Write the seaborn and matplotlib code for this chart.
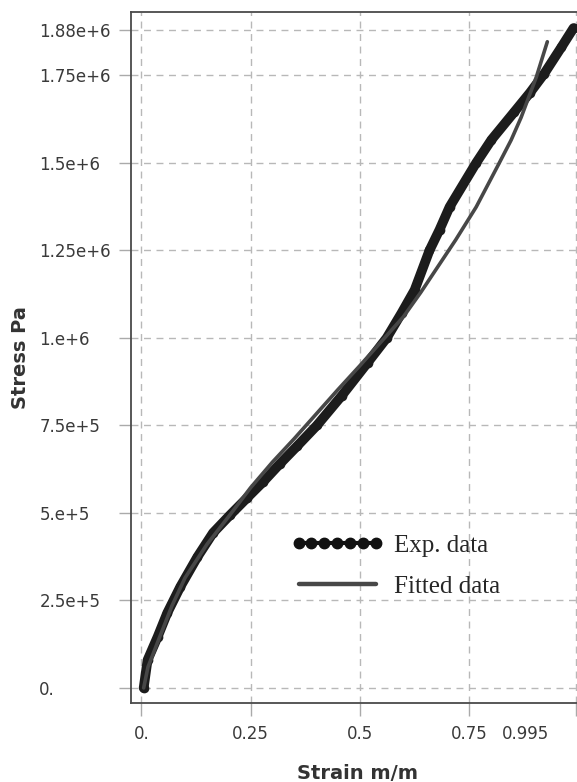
import matplotlib
matplotlib.use("Agg")
import matplotlib.pyplot as plt
from matplotlib.lines import Line2D
from matplotlib.transforms import ScaledTranslation
import seaborn as sns
import pandas as pd

# experimental stress-strain curve (strain m/m, stress in MPa -> Pa)
exp_strain = [0.005, 0.014, 0.037, 0.059, 0.089, 0.128, 0.164, 0.203, 0.242, 0.279,
              0.317, 0.356, 0.402, 0.459, 0.518, 0.562, 0.596, 0.626, 0.660, 0.683,
              0.706, 0.767, 0.802, 0.854, 0.890, 0.923, 0.962, 0.990]
exp_stress = [0.0, 0.08, 0.146, 0.214, 0.289, 0.374, 0.443, 0.494, 0.543, 0.589,
              0.640, 0.690, 0.750, 0.835, 0.929, 1.000, 1.071, 1.137, 1.250, 1.309,
              1.374, 1.500, 1.566, 1.645, 1.700, 1.755, 1.830, 1.885]

# fitted model curve
fit_strain = [0.005, 0.015, 0.04, 0.07, 0.10, 0.15, 0.20, 0.25, 0.30, 0.35,
              0.40, 0.45, 0.50, 0.55, 0.60, 0.64, 0.68, 0.72, 0.767, 0.82,
              0.847, 0.870, 0.905, 0.930]
fit_stress = [0.0, 0.06, 0.14, 0.235, 0.315, 0.41, 0.49, 0.572, 0.645, 0.712,
              0.782, 0.852, 0.92, 0.99, 1.06, 1.13, 1.205, 1.28, 1.374, 1.50,
              1.565, 1.63, 1.746, 1.846]

x_ticks = [0.0, 0.25, 0.5, 0.75, 0.995]
x_ticklabels = ["0.", "0.25", "0.5", "0.75", "0.995"]
y_ticks = [0, 2.5e5, 5e5, 7.5e5, 1e6, 1.25e6, 1.5e6, 1.75e6, 1.88e6]
y_ticklabels = ["0.", "2.5e+5", "5.e+5", "7.5e+5", "1.e+6", "1.25e+6", "1.5e+6", "1.75e+6", "1.88e+6"]

exp_df = pd.DataFrame({"strain": exp_strain, "stress": [v * 1e6 for v in exp_stress]})
fit_df = pd.DataFrame({"strain": fit_strain, "stress": [v * 1e6 for v in fit_stress]})

sns.set_style("white")
plt.rcParams["font.family"] = ["DejaVu Sans"]

fig = plt.figure(figsize=(5.77, 7.82), dpi=100)
ax = fig.add_axes([131 / 577, 1 - 703 / 782, 446 / 577, 691 / 782])

sns.lineplot(data=exp_df, x="strain", y="stress", ax=ax, color="#1c1c1c",
             linewidth=7, marker="o", markersize=7, markeredgewidth=0,
             estimator=None, sort=False, zorder=3)
sns.lineplot(data=fit_df, x="strain", y="stress", ax=ax, color="#474747",
             linewidth=2.6, estimator=None, sort=False, zorder=4)

ax.set_xlim(-0.024, 0.998)
ax.set_ylim(-0.043e6, 1.931e6)

ax.set_xticks(x_ticks)
ax.set_xticklabels(x_ticklabels)
ax.set_yticks(y_ticks)
ax.set_yticklabels(y_ticklabels, ha="left")

ax.tick_params(axis="x", direction="out", length=9, width=1, color="#aaaaaa",
               pad=7, labelsize=12, labelcolor="#3a3a3a", bottom=True)
ax.tick_params(axis="y", direction="out", length=9, width=1, color="#aaaaaa",
               pad=57, labelsize=12, labelcolor="#3a3a3a", left=True)

# last x label is pushed left in the reference so it stays inside the frame
lbl = ax.get_xticklabels()[-1]
lbl.set_transform(lbl.get_transform() + ScaledTranslation(-0.50, 0, fig.dpi_scale_trans))

ax.grid(True, linestyle=(0, (5, 4)), color="#b8b8b8", linewidth=1)
ax.set_axisbelow(True)

for side in ["left", "bottom", "top"]:
    ax.spines[side].set_color("#4a4a4a")
    ax.spines[side].set_linewidth(1.3)
ax.spines["right"].set_visible(False)

ax.set_xlabel("Strain m/m", fontsize=14, fontweight="bold", color="#333333")
ax.set_ylabel("Stress Pa", fontsize=14, fontweight="bold", color="#333333")
ax.xaxis.set_label_coords(0.507, -0.089)
ax.yaxis.set_label_coords(-0.226, 0.5)

handles = [
    Line2D([], [], color="#111111", linewidth=3, marker="o", markersize=7.5),
    Line2D([], [], color="#474747", linewidth=3.2),
]
ax.legend(handles, ["Exp. data", "Fitted data"], frameon=False, numpoints=7,
          loc="center left", bbox_to_anchor=(291 / 577, 1 - 566 / 782),
          bbox_transform=fig.transFigure, borderpad=0, borderaxespad=0,
          handlelength=3.7, handletextpad=0.4, labelspacing=0.75,
          prop={"family": "Liberation Serif", "size": 18})

fig.savefig("out.png", dpi=100, facecolor="white")
